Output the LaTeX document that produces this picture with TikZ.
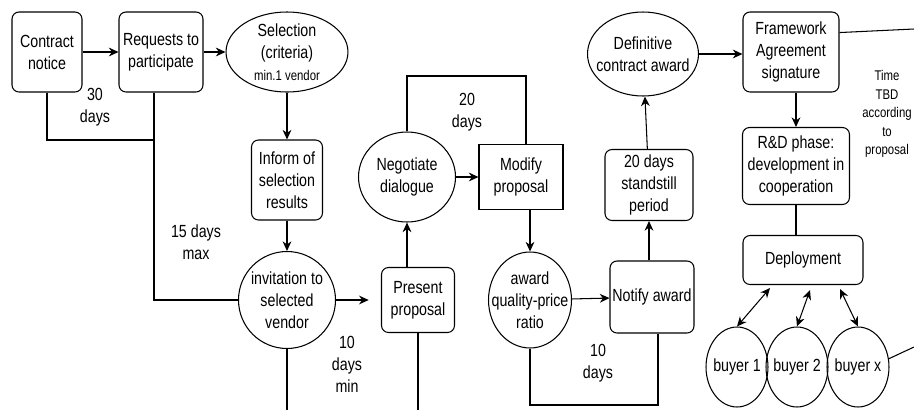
\documentclass[tikz,border=0pt]{standalone}
\usepackage{fontspec}
\setmainfont[FakeStretch=0.81]{Liberation Sans}
\usetikzlibrary{%
  arrows.meta,%
  shapes,% wg. ellipse
  positioning,%
  calc%
}

\begin{document}
\begin{tikzpicture}[
  x=0.02cm, y=-0.02cm,
  font=\fontsize{10}{12.5}\selectfont,
  >={Stealth[length=5.5pt,width=5pt]},
  line width=0.6pt,
  rbox/.style={draw, rounded corners=4pt, align=center, inner sep=1pt},
  sbox/.style={draw, align=center, inner sep=1pt},
  ell/.style={draw, ellipse, align=center, inner sep=0pt},
  note/.style={align=center, inner sep=0pt},
]
\useasboundingbox (0,0) rectangle (914,410);

% first row
\node[rbox, minimum width=1.4cm, minimum height=1.6cm] (cn) at (47,52) {Contract\\notice};
\node[rbox, minimum width=1.68cm, minimum height=1.6cm] (req) at (161,52) {Requests to\\participate};
\node[ell, minimum width=2.44cm, minimum height=1.6cm, inner ysep=-1pt] (sel) at (287,52)
  {Selection\\(criteria)\\{\fontsize{8}{10}\selectfont min.1 vendor}};
\node[rbox, minimum width=1.42cm, minimum height=1.6cm] (inf) at (287,180) {Inform of\\selection\\results};
\node[draw, circle, align=center, inner sep=0pt, minimum size=1.94cm] (inv) at (287,300) {invitation to\\selected\\vendor};

\draw[->] (cn) -- (req);
\draw[->] (req) -- (sel);
\draw[->] (sel) -- (inf);
\draw[->] (inf) -- (inv);

\coordinate (j30) at (154,140);
\coordinate (bot) at (0,410);
\draw (cn.south) |- (j30);
\draw (req.south -| j30) |- (inv.west);
\node[note] (t30) at (95,107) {30\\days};
\node[note] (t15) at (196,242) {15 days\\max};

% negotiation
\node[rbox, minimum width=1.46cm, minimum height=1.3cm] (pres) at (418,300) {Present\\proposal};
\node[ell, minimum width=1.94cm, minimum height=1.8cm] (neg) at (407,177) {Negotiate\\dialogue};
\node[sbox, minimum width=1.68cm, minimum height=1.3cm] (mod) at (521,177) {Modify\\proposal};
\node[ell, minimum width=1.66cm, minimum height=1.92cm, inner xsep=-6pt] (award) at (530,300)
  {award\\quality-price\\ratio};

\draw[->, shorten >=7pt] (inv) -- (pres);
\draw (inv.south) -- (inv.south |- bot);
\draw (pres.south) -- (pres.south |- bot);
\node[note] (t10a) at (347,364) {10\\days\\min};
\draw[->] (pres.north -| neg) -- (neg.south);
\draw[->] (neg) -- (mod);
\coordinate (l20) at (526,76);
\draw (neg.north) |- (l20) -- (l20 |- mod.north);
\node[note] (t20) at (467,112) {20\\days};
\draw[->] (mod.south -| award.north) -- (award.north);

% award
\node[rbox, minimum width=1.68cm, minimum height=1.44cm] (notify) at (652,297) {Notify award};
\node[rbox, minimum width=1.76cm, minimum height=1.42cm] (still) at (649,185) {20 days\\standstill\\period};
\node[ell, minimum width=2.22cm, minimum height=1.68cm, inner xsep=-4.5pt] (def) at (643,54)
  {Definitive\\contract award};

\draw[->] (award) -- (notify);
\coordinate (l10) at (658,405);
\draw (award.south) |- (l10) -- (l10 |- notify.south);
\node[note] (t10b) at (598,363) {10\\days};
\draw[->] (notify.north -| still) -- (still);
\draw[->] (still) -- (def);

% framework
\node[rbox, minimum width=1.92cm, minimum height=1.6cm] (fw) at (791,52) {Framework\\Agreement\\signature};
\node[rbox, minimum width=2.14cm, minimum height=1.54cm] (rd) at (796,166) {R\&D phase:\\development in\\cooperation};
\node[rbox, minimum width=2.4cm, minimum height=0.98cm] (dep) at (803,260) {Deployment};
\node[ell, minimum width=1.24cm, minimum height=1.6cm, inner xsep=-1.5pt] (b1) at (737,367) {buyer 1};
\node[ell, minimum width=1.24cm, minimum height=1.6cm, inner xsep=-1.5pt] (b2) at (797,367) {buyer 2};
\node[ell, minimum width=1.24cm, minimum height=1.6cm, inner xsep=-1.5pt] (bx) at (858,367) {buyer x};

\draw[->] (def.east) -- (fw.west |- def.east);
\coordinate (fwout) at (914,29);
\draw ($(fw.north east)!0.26!(fw.south east)$) -- (fwout);
\node[note, font=\fontsize{8}{10.5}\selectfont] (ttbd) at (887,114) {Time\\TBD\\according\\to\\proposal};
\draw[->] (fw.south -| rd) -- (rd.north);
\draw (rd.south) -- (rd.south |- dep.north);
\draw[<->] ($(dep.south)+(-33,3)$) -- (b1.north);
\draw[<->] ($(dep.south)+(7,5)$) -- (b2.north);
\draw[<->] ($(dep.south)+(37,4)$) -- (bx.north);
\coordinate (bxout) at (914,347);
\draw (bx.15) -- (bxout);

\end{tikzpicture}
\end{document}
